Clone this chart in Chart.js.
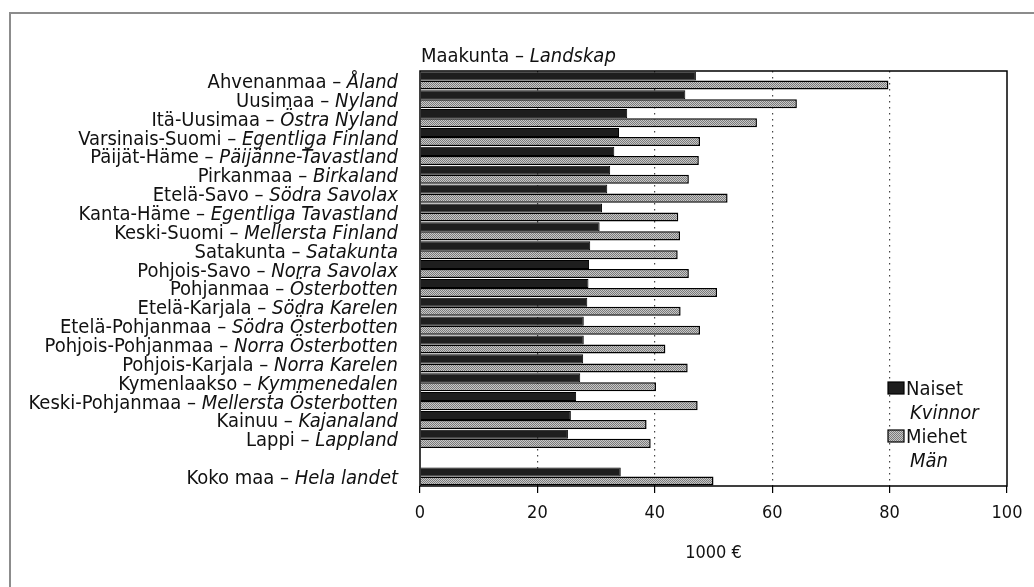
<!DOCTYPE html>
<html>
<head>
<meta charset="utf-8">
<script src="https://cdn.jsdelivr.net/npm/chart.js@4"></script>
<style>
  html, body { margin: 0; padding: 0; background: #fff; }
  #wrap { width: 1034px; height: 587px; position: relative; }
</style>
</head>
<body>
<div id="wrap"><canvas id="myChart"></canvas></div>
<script>
// Maakunta / Landskap, 1000 €
const regionsFi = ['Ahvenanmaa', 'Uusimaa', 'Itä-Uusimaa', 'Varsinais-Suomi', 'Päijät-Häme',
    'Pirkanmaa', 'Etelä-Savo', 'Kanta-Häme', 'Keski-Suomi', 'Satakunta', 'Pohjois-Savo',
    'Pohjanmaa', 'Etelä-Karjala', 'Etelä-Pohjanmaa', 'Pohjois-Pohjanmaa', 'Pohjois-Karjala',
    'Kymenlaakso', 'Keski-Pohjanmaa', 'Kainuu', 'Lappi', '', 'Koko maa'];
const regionsSv = ['Åland', 'Nyland', 'Östra Nyland', 'Egentliga Finland', 'Päijänne-Tavastland',
    'Birkaland', 'Södra Savolax', 'Egentliga Tavastland', 'Mellersta Finland', 'Satakunta',
    'Norra Savolax', 'Österbotten', 'Södra Karelen', 'Södra Österbotten', 'Norra Österbotten',
    'Norra Karelen', 'Kymmenedalen', 'Mellersta Österbotten', 'Kajanaland', 'Lappland', '', 'Hela landet'];
const naiset = [47.0, 45.2, 35.3, 33.9, 33.1, 32.4, 31.9, 31.0, 30.6, 29.0, 28.8,
    28.7, 28.5, 27.9, 27.9, 27.8, 27.3, 26.6, 25.7, 25.2, null, 34.2];
const miehet = [79.8, 64.2, 57.4, 47.7, 47.5, 45.8, 52.4, 44.0, 44.3, 43.9, 45.8,
    50.6, 44.4, 47.7, 41.8, 45.6, 40.2, 47.3, 38.6, 39.3, null, 50.0];
const xTicks = [0, 20, 40, 60, 80, 100];

const FONT = '"Liberation Sans Narrow", "DejaVu Sans Condensed", "Liberation Sans", sans-serif';
const LABEL_SIZE = 20;
const DARK = '#1e1e1e';

// dithered grey fill for the men's bars
function makePattern() {
    const c = document.createElement('canvas');
    c.width = 2; c.height = 2;
    const g = c.getContext('2d');
    g.fillStyle = '#c8c8c8'; g.fillRect(0, 0, 2, 2);
    g.fillStyle = '#7a7a7a'; g.fillRect(0, 0, 1, 1); g.fillRect(1, 1, 1, 1);
    return g.createPattern(c, 'repeat');
}
const GREY = makePattern();

const decor = {
    id: 'decor',
    beforeDraw(chart) {
        const ctx = chart.ctx;
        ctx.save();
        ctx.fillStyle = '#fff';
        ctx.fillRect(0, 0, chart.width, chart.height);
        ctx.strokeStyle = '#8c8c8c';
        ctx.lineWidth = 2;
        ctx.beginPath();
        ctx.moveTo(10, chart.height + 5);
        ctx.lineTo(10, 13);
        ctx.lineTo(chart.width + 5, 13);
        ctx.stroke();
        ctx.restore();
    },
    afterDatasetsDraw(chart) {
        const {ctx, chartArea: a} = chart;
        const y = chart.scales.y;
        const reg = LABEL_SIZE + 'px ' + FONT;
        const ital = 'italic ' + LABEL_SIZE + 'px ' + FONT;
        ctx.save();
        ctx.strokeStyle = '#000';
        ctx.lineWidth = 1.5;
        ctx.strokeRect(a.left, a.top, a.right - a.left, a.bottom - a.top);

        // category labels: Finnish upright, Swedish italic
        ctx.fillStyle = '#111';
        ctx.textBaseline = 'alphabetic';
        ctx.textAlign = 'right';
        regionsFi.forEach((fi, i) => {
            if (!fi) return;
            const py = y.getPixelForValue(i) + 7.5;
            const x = a.left - 22;
            ctx.font = ital;
            const w = ctx.measureText(regionsSv[i]).width;
            ctx.fillText(regionsSv[i], x, py);
            ctx.font = reg;
            ctx.fillText(fi + ' – ', x - w, py);
        });

        // axis heading
        ctx.textAlign = 'left';
        ctx.font = reg;
        const head = 'Maakunta – ';
        ctx.fillText(head, a.left + 1, a.top - 9);
        const hw = ctx.measureText(head).width;
        ctx.font = ital;
        ctx.fillText('Landskap', a.left + 1 + hw, a.top - 9);

        // legend
        const lx = a.right - 119;
        const items = [
            {fill: DARK, fi: 'Naiset', sv: 'Kvinnor', y: 388},
            {fill: GREY, fi: 'Miehet', sv: 'Män', y: 436}
        ];
        items.forEach(it => {
            ctx.fillStyle = it.fill;
            ctx.fillRect(lx, it.y - 6, 16, 12);
            ctx.strokeStyle = '#000';
            ctx.lineWidth = 1.2;
            ctx.strokeRect(lx, it.y - 6, 16, 12);
            ctx.fillStyle = '#111';
            ctx.font = reg;
            ctx.fillText(it.fi, lx + 18, it.y + 7);
            ctx.font = ital;
            ctx.fillText(it.sv, lx + 22, it.y + 31);
        });
        ctx.restore();
    }
};

const ctx = document.getElementById('myChart').getContext('2d');
const myChart = new Chart(ctx, {
    type: 'bar',
    data: {
        labels: regionsFi.map((fi, i) => fi ? fi + ' – ' + regionsSv[i] : ''),
        datasets: [{
            label: 'Naiset',
            data: naiset,
            backgroundColor: DARK,
            borderColor: '#000',
            borderWidth: 1
        }, {
            label: 'Miehet',
            data: miehet,
            backgroundColor: GREY,
            borderColor: '#000',
            borderWidth: 1.5
        }]
    },
    options: {
        indexAxis: 'y',
        responsive: true,
        maintainAspectRatio: false,
        animation: false,
        layout: { padding: { left: 420, right: 27, top: 71, bottom: 0 } },
        plugins: {
            legend: { display: false },
            tooltip: { enabled: false }
        },
        datasets: {
            bar: { categoryPercentage: 0.96, barPercentage: 1 }
        },
        scales: {
            x: {
                type: 'linear',
                position: 'bottom',
                min: 0,
                max: 100,
                afterBuildTicks: scale => { scale.ticks = xTicks.map(v => ({ value: v })); },
                afterFit: scale => { scale.height = 101; },
                ticks: {
                    font: { family: FONT, size: 18 },
                    color: '#111',
                    padding: 10
                },
                grid: {
                    color: c => (c.tick && (c.tick.value === 0 || c.tick.value === 100)) ? 'rgba(0,0,0,0)' : '#444',
                    lineWidth: 1.2,
                    tickColor: '#000',
                    tickLength: 7,
                    tickWidth: 1.2,
                    tickBorderDash: []
                },
                border: { display: false, dash: [1.5, 4.5] },
                title: {
                    display: true,
                    text: '1000 €',
                    font: { family: FONT, size: 18 },
                    color: '#111',
                    padding: { top: 0, bottom: 23 }
                }
            },
            y: {
                type: 'category',
                offset: true,
                afterFit: scale => { scale.width = 0; },
                ticks: { display: false },
                grid: { display: false },
                border: { display: false }
            }
        }
    },
    plugins: [decor]
});
</script>
</body>
</html>
